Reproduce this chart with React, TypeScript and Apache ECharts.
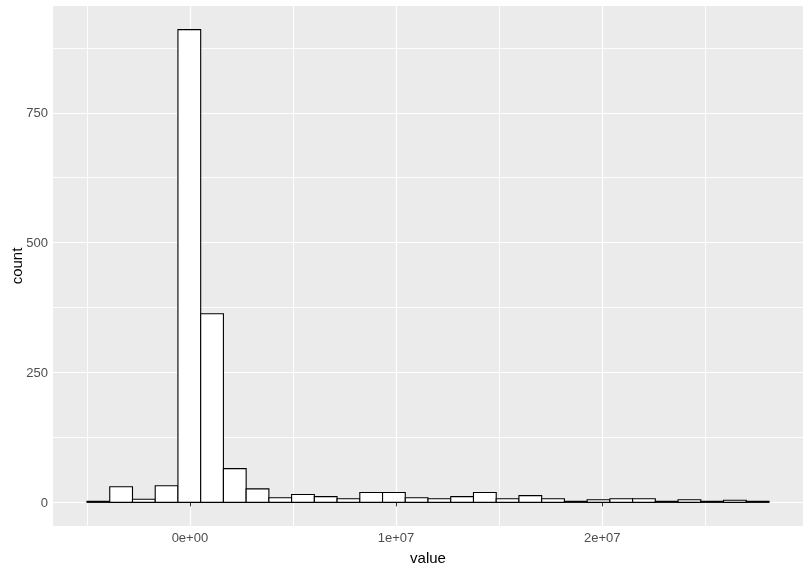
import React, { useEffect, useRef } from "react";
import * as echarts from "echarts";

// Histogram bins (30 bins)
const binStart = -4.99e6;
const binWidth = 1.1027e6;
const counts = [2, 30, 6, 32, 910, 363, 65, 26, 9, 15, 11, 7, 19, 19, 9, 7, 11, 19, 7, 13, 7, 2, 5, 7, 7, 2, 5, 2, 4, 2];

const xMajor = [0, 1e7, 2e7];
const xMinor = [-5e6, 5e6, 1.5e7, 2.5e7];
const xLabels = ["0e+00", "1e+07", "2e+07"];
const yMajor = [0, 250, 500, 750];
const yMinor = [125, 375, 625, 875];

const xMin = -6.64e6;
const xMax = 2.974e7;
const yMin = -45.5;
const yMax = 955.5;

const FONT = "Liberation Sans, Arial, sans-serif";

export default function App() {
  const ref = useRef<HTMLDivElement>(null);
  useEffect(() => {
    if (!ref.current) return;
    const chart = echarts.init(ref.current, undefined, { renderer: "svg" });
    const data = counts.map((c, i) => [binStart + i * binWidth, binStart + (i + 1) * binWidth, c]);
    const labelMap: Record<string, string> = {};
    xMajor.forEach((v, i) => (labelMap[String(v)] = xLabels[i]));
    chart.setOption({
      animation: false,
      grid: {
        left: 53,
        right: 9,
        top: 6,
        bottom: 46,
        outerBoundsMode: "none",
        containLabel: false,
        show: true,
        backgroundColor: "#EBEBEB",
        borderWidth: 0,
      },
      xAxis: [
        {
          type: "value",
          min: xMin,
          max: xMax,
          position: "bottom",
          name: "value",
          nameLocation: "middle",
          nameGap: 24,
          nameMoveOverlap: false,
          nameTextStyle: { color: "#000", fontSize: 15, fontFamily: FONT },
          axisLine: { show: false },
          axisTick: { show: true, customValues: xMajor, length: 4, lineStyle: { color: "#333", width: 1 } },
          axisLabel: {
            customValues: xMajor,
            color: "#4D4D4D",
            fontSize: 13,
            fontFamily: FONT,
            margin: 5,
            formatter: (v: number) => labelMap[String(v)] ?? "",
          },
          splitLine: { show: true, lineStyle: { color: "#FFFFFF", width: 1.2 } },
        },
        {
          type: "value",
          min: xMin,
          max: xMax,
          position: "top",
          axisLine: { show: false },
          axisTick: { show: false, customValues: xMinor },
          axisLabel: { show: false, customValues: xMinor },
          splitLine: { show: true, lineStyle: { color: "#FFFFFF", width: 0.9 } },
        },
      ],
      yAxis: [
        {
          type: "value",
          min: yMin,
          max: yMax,
          position: "left",
          name: "count",
          nameLocation: "middle",
          nameGap: 29,
          nameMoveOverlap: false,
          nameRotate: 90,
          nameTextStyle: { color: "#000", fontSize: 15, fontFamily: FONT },
          axisLine: { show: false },
          axisTick: { show: true, customValues: yMajor, length: 4, lineStyle: { color: "#333", width: 1 } },
          axisLabel: {
            customValues: yMajor,
            color: "#4D4D4D",
            fontSize: 13,
            fontFamily: FONT,
            margin: 5,
          },
          splitLine: { show: true, lineStyle: { color: "#FFFFFF", width: 1.2 } },
        },
        {
          type: "value",
          min: yMin,
          max: yMax,
          position: "right",
          axisLine: { show: false },
          axisTick: { show: false, customValues: yMinor },
          axisLabel: { show: false, customValues: yMinor },
          splitLine: { show: true, lineStyle: { color: "#FFFFFF", width: 0.9 } },
        },
      ],
      series: [
        {
          type: "custom",
          xAxisIndex: 0,
          yAxisIndex: 0,
          z: 5,
          encode: { x: [0, 1], y: 2 },
          data,
          renderItem: (params: any, api: any) => {
            const x0 = api.value(0);
            const x1 = api.value(1);
            const c = api.value(2);
            const p0 = api.coord([x0, c]);
            const p1 = api.coord([x1, 0]);
            return {
              type: "rect",
              shape: { x: p0[0], y: p0[1], width: p1[0] - p0[0], height: p1[1] - p0[1] },
              style: { fill: "#FFFFFF", stroke: "#000000", lineWidth: 1.1 },
            };
          },
        },
      ],
    });
    return () => chart.dispose();
  }, []);
  return <div ref={ref} style={{ position: "fixed", left: 0, top: 0, width: 812, height: 572 }} />;
}
